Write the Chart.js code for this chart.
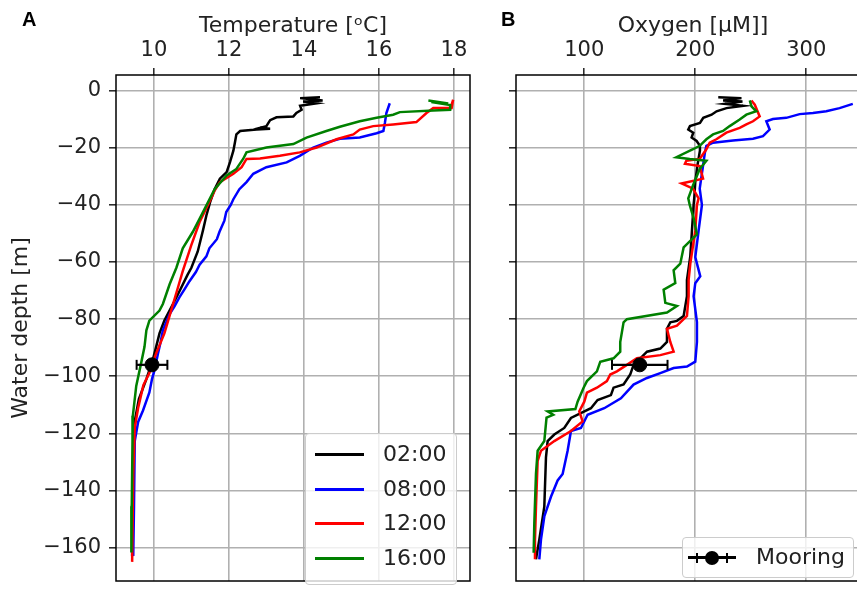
<!DOCTYPE html>
<html>
<head>
<meta charset="utf-8">
<script src="https://cdn.jsdelivr.net/npm/chart.js@4.4.0/dist/chart.umd.min.js"></script>
<style>
  body { margin: 0; width: 857px; height: 589px; overflow: hidden; background: #fff; position: relative; font-family: "DejaVu Sans", sans-serif; }
  canvas { position: absolute; top: 0; }
  #cA { left: 0; }
  #cB { left: 480px; }
  .panel { position: absolute; font-family: "Liberation Sans", Arial, sans-serif; font-weight: bold; font-size: 20px; line-height: 20px; color: #000; }
  .legend { position: absolute; border: 1px solid #ccc; border-radius: 4px; background: rgba(255,255,255,0.8); box-sizing: border-box; font-size: 22px; color: #222; }
  .legend .row { position: absolute; left: 0; height: 0; }
  .legend .swatch { position: absolute; left: 9px; width: 49px; height: 3px; top: -1px; }
  .legend .txt { position: absolute; left: 77px; top: -14px; line-height: 28px; white-space: nowrap; }
</style>
</head>
<body>
<canvas id="cA" width="480" height="589"></canvas>
<canvas id="cB" width="400" height="589"></canvas>
<div class="panel" style="left:22px; top:9px;">A</div>
<div class="panel" style="left:501px; top:9px;">B</div>

<div class="legend" id="legA" style="left:305px; top:433px; width:152px; height:152px;"></div>
<div class="legend" style="left:682px; top:537px; width:172px; height:41px;">
  <div style="position:absolute; left:5px; top:18px; width:48px; height:3px; background:#000;"></div>
  <div style="position:absolute; left:13px; top:15px; width:2px; height:10px; background:#000;"></div>
  <div style="position:absolute; left:43px; top:15px; width:2px; height:10px; background:#000;"></div>
  <div style="position:absolute; left:22px; top:13px; width:14px; height:14px; border-radius:50%; background:#000;"></div>
  <div style="position:absolute; left:73px; top:5px; line-height:28px;">Mooring</div>
</div>

<script>
  // legend labels / colours
  const times = ['02:00', '08:00', '12:00', '16:00'];
  const colors = ['#000000', '#0000ff', '#ff0000', '#008000'];

  // temperature profiles [degC, depth m]
  const temp02 = [[14.43,-2.3],[13.9,-2.6],[14.5,-3.4],[13.98,-3.8],[14.34,-4.4],[13.9,-5.3],[13.94,-6.7],[13.8,-7.8],[13.72,-9.0],[13.27,-9.3],[13.1,-10.3],[13.0,-12.4],[12.83,-13.0],[13.1,-13.3],[12.74,-13.6],[12.3,-14.1],[12.2,-15.3],[12.16,-18.2],[12.12,-21],[12.03,-25],[11.94,-28.5],[11.76,-30.8],[11.62,-34.5],[11.5,-39],[11.4,-43.7],[11.31,-48.9],[11.17,-56.3],[11.0,-62],[10.9,-64.4],[10.6,-72.4],[10.28,-80.5],[10.15,-85],[10.06,-89.7],[9.97,-94.3],[9.8,-101],[9.6,-108],[9.5,-115],[9.46,-125],[9.44,-145],[9.42,-163]];
  const temp08 = [[16.29,-4.4],[16.2,-7.8],[16.16,-11.3],[16.12,-14.1],[15.94,-14.9],[15.49,-16.4],[14.96,-16.8],[14.6,-18.2],[14.25,-19.9],[13.89,-22.8],[13.54,-25.1],[13.0,-26.8],[12.65,-29.1],[12.47,-32],[12.28,-34.5],[12.12,-38],[12.05,-40],[11.93,-42.5],[11.88,-45.5],[11.75,-49.4],[11.68,-52],[11.48,-55.2],[11.4,-58],[11.22,-60.9],[11.12,-63.5],[10.95,-66.7],[10.82,-69.5],[10.68,-72.4],[10.55,-75.5],[10.42,-78.2],[10.24,-83.9],[10.18,-88],[10.11,-92],[10.02,-97.7],[9.95,-101],[9.88,-105.7],[9.71,-112],[9.58,-116],[9.49,-122.7],[9.47,-145.7],[9.45,-162.9]];
  const temp12 = [[17.9,-6.5],[17.98,-3.2],[17.94,-6.1],[17.45,-6.1],[17.27,-7.8],[17.0,-11],[16.38,-11.8],[15.85,-12.4],[15.49,-13.6],[15.32,-15.3],[14.87,-17],[14.34,-19.9],[13.89,-21.6],[13.36,-22.8],[12.83,-23.7],[12.47,-23.9],[12.34,-26.8],[12.12,-29.1],[11.76,-32],[11.62,-35],[11.48,-39],[11.22,-46],[11.0,-54],[10.77,-63.2],[10.64,-69],[10.46,-77],[10.28,-85],[10.06,-92],[9.88,-98.9],[9.72,-103.1],[9.58,-111.1],[9.49,-118],[9.45,-134],[9.42,-165]];
  const temp16 = [[17.32,-3.4],[17.85,-4.5],[17.4,-4.0],[17.9,-5.0],[17.9,-6.7],[17.45,-6.9],[16.56,-7.5],[16.38,-8.4],[15.94,-9.5],[15.49,-10.7],[14.96,-12.6],[14.6,-14.1],[14.07,-16.4],[13.72,-18.7],[13.0,-19.9],[12.47,-21.6],[12.38,-23.9],[12.2,-27.4],[11.94,-29.7],[11.62,-34.5],[11.31,-42.5],[11.04,-49.4],[10.77,-55.2],[10.6,-62],[10.42,-67.8],[10.24,-74.7],[10.15,-77],[9.88,-80.5],[9.8,-83.9],[9.75,-89.7],[9.66,-95.4],[9.53,-103.4],[9.44,-113.8],[9.43,-122.6],[9.41,-145.5],[9.4,-161.7]];

  // oxygen profiles [uM, depth m]
  const oxy02 = [[220.7,-2.3],[241.6,-2.6],[225.1,-3.4],[242.5,-3.8],[226.6,-4.6],[243.1,-5.3],[228.1,-6.1],[219.2,-7.2],[214.7,-8.4],[207.2,-9.5],[204.2,-11.3],[195.2,-12.4],[193.7,-13.6],[198.2,-14.7],[196.7,-16.4],[201.2,-17.6],[204.2,-19.3],[204.2,-21],[202,-26],[200,-32],[199,-38],[198.5,-40],[197,-49],[195.5,-58],[192.5,-66.3],[192.5,-72],[189.5,-78.9],[183.5,-80.6],[177.5,-81.1],[174.5,-83.4],[174.5,-88],[168.5,-90.3],[156.5,-91.4],[150.5,-93.7],[144.4,-96],[141.4,-99.4],[135.4,-102.9],[126.4,-104],[124,-106.6],[112,-108.3],[106,-111.2],[88,-114.6],[82,-118.1],[73,-120.4],[67,-122.7],[65.5,-128.4],[64,-145.7],[59.5,-157.2],[56.5,-164.1]];
  const oxy08 = [[341.9,-4.6],[330,-6.1],[318,-7.2],[306,-7.8],[294,-8.2],[282,-9.5],[270,-9.9],[264,-10.7],[267,-13.6],[261,-15.9],[252,-16.8],[234,-17.4],[216,-18.2],[210,-19.3],[208.7,-21.6],[207,-26.2],[204,-34.3],[206,-40],[203,-49],[200,-58.3],[204.5,-65],[200,-67.4],[198.5,-72],[201.5,-81],[201.5,-88],[200,-94.9],[192.5,-96.6],[180.5,-97.1],[168.5,-98.9],[156.5,-100.6],[144.4,-102.9],[133,-107.7],[118,-111.2],[103,-113.5],[97,-118.1],[88,-119.2],[85,-126.1],[80.5,-134.2],[76,-136.5],[70,-142.2],[64,-149.1],[61,-157.2],[59.5,-164.1]];
  const oxy12 = [[250.6,-3.4],[253.6,-4.9],[258,-9],[252,-10.7],[246,-11.8],[240,-13],[228,-14.7],[219,-17],[213,-18.2],[210,-20.5],[204,-23.9],[192,-24.5],[190.7,-25.6],[204,-26.4],[207,-30.8],[187.7,-32.5],[198,-34.3],[203,-37.7],[201.5,-40],[200,-49],[195.5,-60.6],[194,-66.3],[194,-72],[192.5,-78.9],[183.5,-82.3],[174.5,-83.4],[177.5,-88],[180.5,-91.4],[168.5,-92.6],[147.4,-93.7],[138.4,-96],[129.4,-98.3],[123.4,-99.4],[120.4,-101.7],[111.4,-104],[102.4,-105.7],[100,-108.9],[95.5,-112.3],[98.5,-115.8],[88,-119.2],[73,-122.7],[61,-126.1],[58,-129.6],[56.5,-145.7],[55.6,-157.2],[55.6,-164.1]];
  const oxy16 = [[249.1,-3.4],[250.6,-5.5],[255,-7.2],[246,-8.4],[240,-10.1],[231,-12.4],[225,-14.1],[216,-15.3],[210,-17],[204,-19.3],[198,-20.5],[183,-23.3],[195,-23.9],[210,-24.5],[204,-27.4],[198,-33.1],[193.7,-37.7],[195,-40],[198.5,-44.6],[201.5,-50.3],[189.5,-54.9],[186.5,-60.6],[180.5,-62.9],[182,-67.4],[171.5,-69.7],[173,-74.3],[183.5,-75.4],[174.5,-77.7],[138.4,-80],[135.4,-81.1],[132.4,-88],[132.4,-91.4],[126.4,-93.7],[114.4,-94.9],[111.4,-98.3],[102.4,-101.7],[99.4,-104],[94,-108.9],[92,-111.5],[67,-112.3],[72,-113.5],[66,-114.5],[64,-122.7],[58,-126.1],[56.5,-134.2],[55,-151.4],[54.4,-161.8]];

  // mooring point with error
  const mooringDepth = -96;
  const mooringTemp = 9.95, mooringTempErr = 0.41;
  const mooringOxy = 150, mooringOxyErr = 25;

  // tick labels
  const tempTicks = [10, 12, 14, 16, 18];
  const oxyTicks = [100, 200, 300];
  const depthTicks = [-160, -140, -120, -100, -80, -60, -40, -20, 0];

  Chart.defaults.font.family = '"DejaVu Sans", sans-serif';
  Chart.defaults.color = '#222';

  function profile(label, color, rows) {
    return {
      label: label,
      data: rows.map(r => ({ x: r[0], y: r[1] })),
      borderColor: color,
      borderWidth: 2.5,
      pointRadius: 0,
      showLine: true,
      fill: false
    };
  }

  function mooring(val, err) {
    return [
      { label: 'Mooring', data: [{ x: val, y: mooringDepth }], pointRadius: 7, pointBackgroundColor: '#000', pointBorderColor: '#000', showLine: false },
      { label: 'err', data: [{ x: val - err, y: mooringDepth }, { x: val + err, y: mooringDepth }],
        borderColor: '#000', borderWidth: 2.2, showLine: true, pointStyle: 'line', rotation: 90,
        pointRadius: 5, pointBorderWidth: 2, pointBorderColor: '#000' }
    ];
  }

  const frame = {
    id: 'frame',
    afterDraw(chart) {
      const a = chart.chartArea, ctx = chart.ctx;
      ctx.save();
      ctx.strokeStyle = '#000';
      ctx.lineWidth = 1.5;
      ctx.strokeRect(a.left, a.top, a.right - a.left, a.bottom - a.top);
      ctx.restore();
    }
  };

  const minus = v => String(v).replace('-', '\u2212');

  function makeChart(id, datasets, xmin, xmax, xticks, xtitle, yWidth, showY) {
    return new Chart(document.getElementById(id), {
      type: 'scatter',
      data: { datasets: datasets },
      plugins: [frame],
      options: {
        responsive: false,
        animation: false,
        events: [],
        layout: { padding: { left: 0, right: 10, top: 0, bottom: 0 } },
        plugins: { legend: { display: false }, tooltip: { enabled: false } },
        scales: {
          x: {
            position: 'top',
            min: xmin, max: xmax,
            afterBuildTicks: s => { s.ticks = xticks.map(v => ({ value: v })); },
            afterFit: s => { s.height = 75; s.paddingLeft = 0; s.paddingRight = 0; },
            ticks: { font: { size: 21 }, padding: 5, color: '#222' },
            grid: { color: '#b0b0b0', lineWidth: 1.6, tickLength: 7, tickColor: '#222', tickWidth: 1.5 },
            border: { display: false },
            title: { display: true, text: xtitle, font: { size: 22 }, padding: { top: 13, bottom: 0 }, color: '#222' }
          },
          y: {
            min: -171.7, max: 5.5,
            afterBuildTicks: s => { s.ticks = depthTicks.map(v => ({ value: v })); },
            afterFit: s => { s.width = yWidth; s.paddingTop = 0; s.paddingBottom = 0; },
            ticks: { display: showY, font: { size: 21 }, padding: 8, color: '#222', callback: minus },
            grid: { color: '#b0b0b0', lineWidth: 1.6, tickLength: 7, tickColor: '#222', tickWidth: 1.5 },
            border: { display: false },
            title: { display: showY, text: 'Water depth [m]', font: { size: 22 }, padding: { top: 8, bottom: 0 }, color: '#222' }
          }
        }
      }
    });
  }

  const tempSets = mooring(mooringTemp, mooringTempErr).concat([
    profile(times[3], colors[3], temp16),
    profile(times[2], colors[2], temp12),
    profile(times[1], colors[1], temp08),
    profile(times[0], colors[0], temp02)
  ]);
  const oxySets = mooring(mooringOxy, mooringOxyErr).concat([
    profile(times[3], colors[3], oxy16),
    profile(times[2], colors[2], oxy12),
    profile(times[1], colors[1], oxy08),
    profile(times[0], colors[0], oxy02)
  ]);

  makeChart('cA', tempSets, 8.99, 18.43, tempTicks, 'Temperature [\u1D52C]', 116, true);
  makeChart('cB', oxySets, 38.5, 357.4, oxyTicks, 'Oxygen [\u03BCM]]', 36, false);

  // legend for panel A
  const legA = document.getElementById('legA');
  times.forEach((t, i) => {
    const row = document.createElement('div');
    row.className = 'row';
    row.style.top = Math.round(20 + i * 34.7) + 'px';
    row.innerHTML = '<div class="swatch" style="background:' + colors[i] + '"></div><div class="txt">' + t + '</div>';
    legA.appendChild(row);
  });
</script>
</body>
</html>
